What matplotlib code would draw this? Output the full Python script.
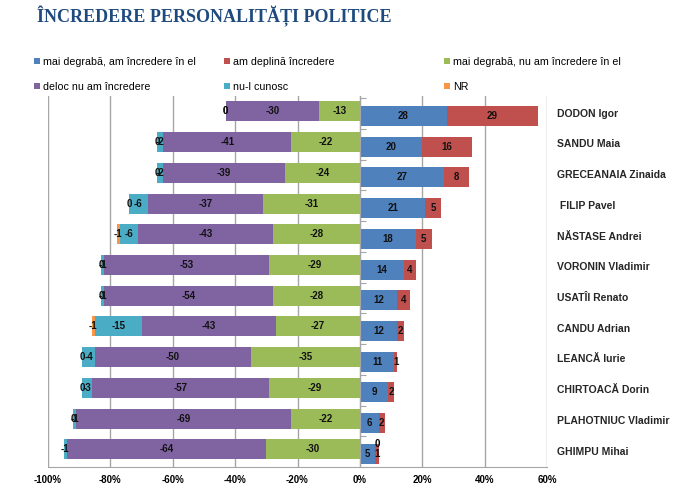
import matplotlib
matplotlib.use('Agg')
import numpy as np
import matplotlib.pyplot as plt

# ============================================================
# Data (percent)
# ============================================================
names = ["DODON Igor", "SANDU Maia", "GRECEANAIA Zinaida", " FILIP Pavel",
         "NĂSTASE Andrei", "VORONIN Vladimir", "USATÎI Renato", "CANDU Adrian",
         "LEANCĂ Iurie", "CHIRTOACĂ Dorin", "PLAHOTNIUC Vladimir", "GHIMPU Mihai"]
trust_rather = [28, 20, 27, 21, 18, 14, 12, 12, 11, 9, 6, 5]
trust_full = [29, 16, 8, 5, 5, 4, 4, 2, 1, 2, 2, 1]
distrust_rather = [-13, -22, -24, -31, -28, -29, -28, -27, -35, -29, -22, -30]
distrust_full = [-30, -41, -39, -37, -43, -53, -54, -43, -50, -57, -69, -64]
unknown = [0, -2, -2, -6, -6, -1, -1, -15, -4, -3, -1, -1]
nr = [0, 0, 0, 0, -1, 0, 0, -1, 0, 0, 0, 0]

series_names = ["mai degrabă, am încredere în el", "am deplină încredere",
                "mai degrabă, nu am încredere în el", "deloc nu am încredere",
                "nu-l cunosc", "NR"]
colors = ["#4F81BD", "#C0504D", "#9BBB59", "#8064A2", "#4BACC6", "#F79646"]

plt.rcParams['font.family'] = ['Liberation Sans', 'DejaVu Sans']

fig = plt.figure(figsize=(6.75, 4.9), dpi=100)
ax = fig.add_axes([48 / 675, 1 - 467 / 490, (547 - 48) / 675, (467 - 96) / 490])

y = np.arange(len(names))
h = 0.65
shift = 0.073  # negative and positive halves sit slightly apart in the original
lab_kw = dict(ha='center', va='center', fontsize=7, fontweight='bold',
              color='#111111', zorder=5)

# positive side
bars = []
left = np.zeros(len(names))
for vals, c in zip([trust_rather, trust_full], colors[:2]):
    v = np.array(vals, dtype=float)
    bars.append(ax.barh(y + shift, v, left=left, height=h, color=c, zorder=3))
    for yi, l, w in zip(y + shift, left, v):
        ax.text(l + w / 2, yi, f"{int(w)}", **lab_kw)
    left = left + v

# negative side
left = np.zeros(len(names))
for vals, c in zip([distrust_rather, distrust_full, unknown, nr], colors[2:]):
    v = np.array(vals, dtype=float)
    bars.append(ax.barh(y - shift, v, left=left, height=h, color=c, zorder=3))
    for i, (yi, l, w) in enumerate(zip(y - shift, left, v)):
        if c == colors[5] and i == len(names) - 1:
            # GHIMPU: NR label sits next to the positive bar
            ax.annotate(f"{int(w)}", (trust_rather[i] + trust_full[i], yi),
                        xytext=(-1, 4), textcoords='offset points',
                        ha='center', va='center', fontsize=7,
                        fontweight='bold', zorder=5)
            continue
        ax.text(l + w / 2, yi, f"{int(w)}", **lab_kw)
    left = left + v

ax.set_xlim(-100, 60)
ax.set_ylim(11.41, -0.574)
ax.set_xticks(np.arange(-100, 61, 20))
ax.set_xticklabels([f"{t}%" for t in range(-100, 61, 20)],
                   fontsize=7, fontweight='bold')
ax.tick_params(axis='x', length=0, pad=6)
ax.grid(axis='x', color='#a6a6a6', linewidth=1, zorder=0)

# category axis at zero
ax.spines['left'].set_position(('data', 0))
ax.spines['left'].set_color('#a6a6a6')
ax.spines['left'].set_zorder(4)
ax.set_yticks(np.arange(len(names) + 1) - 0.5)
ax.set_yticklabels([])
ax.tick_params(axis='y', direction='in', length=4, color='#a6a6a6')
ax.spines['bottom'].set_color('#a6a6a6')
ax.spines['top'].set_visible(False)
ax.spines['right'].set_visible(False)

for yi, n in zip(y, names):
    ax.text(1.02, yi, n, transform=ax.get_yaxis_transform(), ha='left',
            va='center', fontsize=7.5, fontweight='bold', color='#262626')

# legend: three columns, two rows each
order = [(0, 3), (1, 4), (2, 5)]
xs = [34, 224, 444]
for (a, b), xp in zip(order, xs):
    fig.legend([bars[a], bars[b]], [series_names[a], series_names[b]],
               loc='upper left', bbox_to_anchor=(xp / 675, 1 - 57 / 490),
               frameon=False, fontsize=7.7, handlelength=0.55,
               handleheight=0.55, handletextpad=0.3, labelspacing=1.4,
               borderaxespad=0, borderpad=0)

fig.text(37 / 675, 1 - 22 / 490, "ÎNCREDERE PERSONALITĂȚI POLITICE",
         family='Liberation Serif', fontweight='heavy',
         fontsize=13, color='#1F4A7D', ha='left', va='baseline')

fig.savefig("out.png", dpi=100)
